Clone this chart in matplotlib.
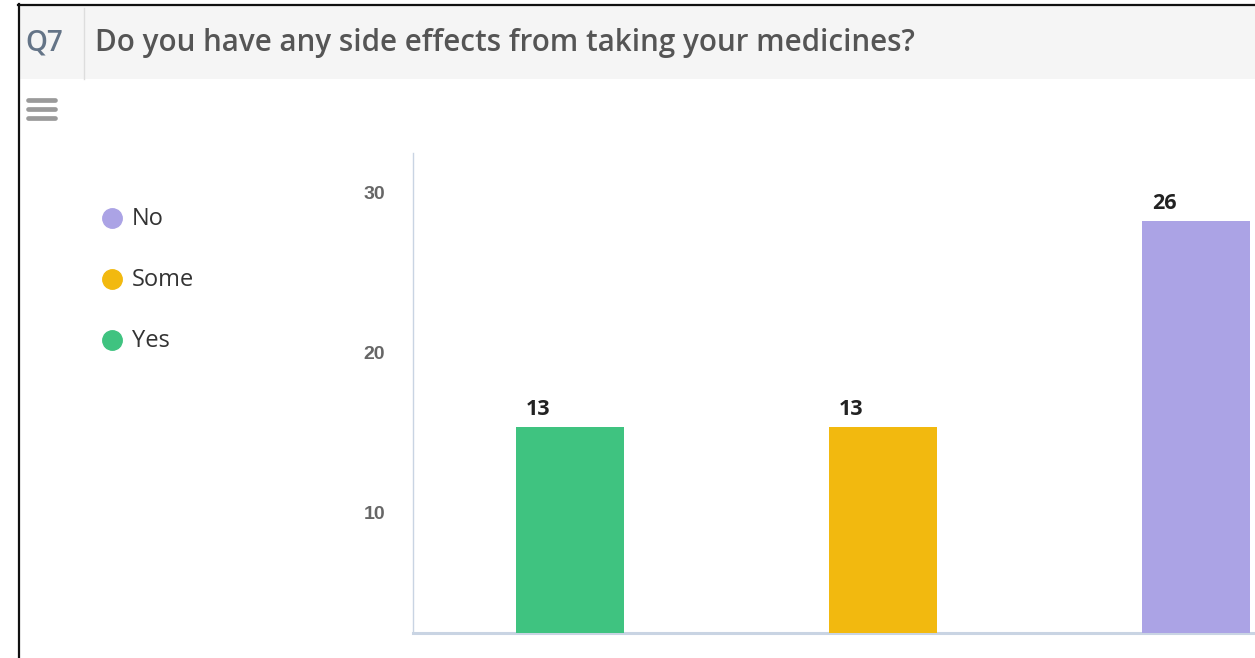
import matplotlib
matplotlib.use("Agg")
import matplotlib.pyplot as plt
from matplotlib.patches import Rectangle
from matplotlib.lines import Line2D

# Survey answers and counts
categories = ["Yes", "Some", "No"]
counts = [13, 13, 26]
colors = ["#3fc380", "#f2b90f", "#aba3e5"]
question_id = "Q7"
question = "Do you have any side effects from taking your medicines?"
tick_values = [10, 20, 30]

W, H = 1255, 658
fig = plt.figure(figsize=(W / 100, H / 100), dpi=100)
fig.patch.set_facecolor("white")


def fx(px):
    return px / W


def fy(py):
    return 1 - py / H


# Panel header band
fig.add_artist(Rectangle((fx(19), fy(79)), 1 - fx(19), fy(6) - fy(79),
                         transform=fig.transFigure, facecolor="#f5f5f5",
                         edgecolor="none", zorder=0))
fig.add_artist(Line2D([fx(84), fx(84)], [fy(8), fy(79)], transform=fig.transFigure,
                      color="#dddddd", lw=1))
# Panel frame (top and left)
fig.add_artist(Line2D([fx(18), 1], [fy(4.5), fy(4.5)], transform=fig.transFigure,
                      color="#111111", lw=1.6))
fig.add_artist(Line2D([fx(18.5), fx(18.5)], [fy(4), 0], transform=fig.transFigure,
                      color="#111111", lw=1.6))

fig.text(fx(25), fy(43), question_id, fontsize=20, family="Open Sans",
         fontweight="semibold", color="#647487", va="center", ha="left")
fig.text(fx(95), fy(43), question, fontsize=21.3, family="Open Sans",
         fontweight="semibold", color="#555555", va="center", ha="left")

# Menu icon
for yy in (100, 109, 118):
    fig.add_artist(Line2D([fx(27.5), fx(54.5)], [fy(yy), fy(yy)],
                          transform=fig.transFigure, color="#9a9a9a",
                          lw=3.4, solid_capstyle="round"))

# Legend, listed in reverse order of the bars
for i, (cat, col) in enumerate(zip(categories[::-1], colors[::-1])):
    yy = 219 + i * 61
    fig.add_artist(Line2D([fx(112)], [fy(yy - 1)], transform=fig.transFigure,
                          marker="o", markersize=14, color=col, lw=0))
    fig.text(fx(132), fy(yy), cat, fontsize=17, family="Open Sans",
             color="#333333", va="center", ha="left")

# Plot area (extends past the right edge of the panel)
ax_left, ax_bottom = fx(413), fy(633)
ax_w, ax_h = 939 / W, 480 / H
ax = fig.add_axes([ax_left, ax_bottom, ax_w, ax_h])
ax.set_facecolor("none")
x = list(range(len(categories)))
ax.bar(x, counts, width=108 / 313, color=colors, zorder=3)
ax.set_xlim(-0.5, len(categories) - 0.5)
ax.set_ylim(0, 480 / 15.85)
ax.set_xticks([])
ax.set_yticks([])
for s in ("top", "right"):
    ax.spines[s].set_visible(False)
ax.spines["left"].set_color("#c9d4e3")
ax.spines["left"].set_linewidth(1)
ax.spines["bottom"].set_color("#c9d4e3")
ax.spines["bottom"].set_linewidth(2.2)

for xi, v in zip(x, counts):
    ax.annotate(str(v), xy=(xi, v), xytext=(-31, 17), textcoords="offset pixels",
                ha="center", va="center", fontsize=15.5, fontweight="bold",
                family="Open Sans", color="#222222", zorder=4)

# Value scale shown on the left
ax2 = ax.twinx()
ax2.set_ylim(2.44, 2.44 + 480 / 16)
ax2.yaxis.tick_left()
ax2.set_yticks(tick_values)
ax2.set_yticklabels([str(t) for t in tick_values])
ax2.tick_params(axis="y", length=0, pad=20, labelsize=14, labelcolor="#666666")
for lab in ax2.get_yticklabels():
    lab.set_fontweight("bold")
    lab.set_family("Liberation Sans")
for s in ax2.spines.values():
    s.set_visible(False)
ax2.set_xticks([])

fig.savefig("out.png", dpi=100, facecolor="white")
